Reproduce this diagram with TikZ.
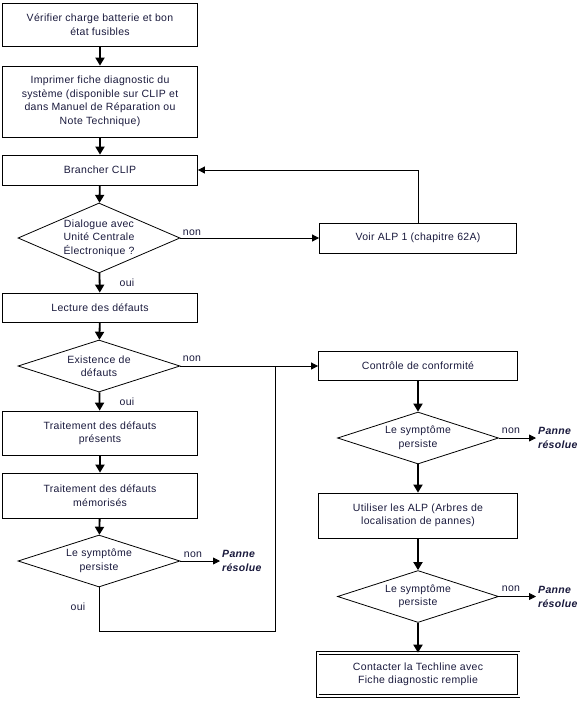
\documentclass[tikz,border=0pt]{standalone}
\usepackage{fontspec}
\setmainfont{Liberation Sans}[LetterSpace=3]
\usepackage{xcolor}
\usepackage{tikz}
\usetikzlibrary{shapes.geometric, arrows.meta, positioning, calc}
\definecolor{txtnavy}{RGB}{25,25,60}

\begin{document}
\begin{tikzpicture}[
    x=1pt, y=-1pt,
    font=\fontsize{10.5}{13.5}\selectfont,
    every node/.style={text=txtnavy},
    box/.style={draw=black, line width=0.8pt, minimum width=195pt, align=center, inner sep=0pt},
    decision/.style={draw=black, diamond, aspect=2.3, line width=0.8pt, align=center, inner sep=0pt},
    panne/.style={anchor=west, align=left, inner sep=2pt, font=\fontsize{10.5}{14}\selectfont\bfseries\itshape},
    lbl/.style={inner sep=0pt},
    thickarrow/.style={line width=1.8pt, -{Triangle[length=8pt,width=9pt]}},
    thinarrow/.style={line width=0.8pt, -{Triangle[length=7pt,width=7pt]}}
]
\useasboundingbox (0,0) rectangle (583,716);

% left column
\node[box, minimum height=43pt] (verif) at (100,24.5) {Vérifier charge batterie et bon\\état fusibles};
\node[box, minimum height=71pt] (imprim) at (100,101.5) {Imprimer fiche diagnostic du\\système (disponible sur CLIP et\\dans Manuel de Réparation ou\\Note Technique)};
\node[box, minimum height=30pt] (branch) at (100,170) {Brancher CLIP};
\node[decision, minimum width=162pt, minimum height=70pt] (dialog) at (99,238) {Dialogue avec\\Unité Centrale\\Électronique ?};
\node[box, minimum height=29pt] (lect) at (100,307.5) {Lecture des défauts};
\node[decision, minimum width=162pt, minimum height=52pt] (exist) at (99,366) {Existence de\\défauts};
\node[box, minimum height=44pt] (present) at (100,433) {Traitement des défauts\\présents};
\node[box, minimum height=45pt] (memo) at (100,495.5) {Traitement des défauts\\mémorisés};
\node[decision, minimum width=162pt, minimum height=51pt] (sympA) at (99,561) {Le symptôme\\persiste};
\node[panne] (panneA) at (220,561) {Panne\\résolue};

% right column
\node[box, minimum width=197pt, minimum height=30pt] (voir) at (418,238) {Voir ALP 1 (chapitre 62A)};
\node[box, minimum width=199pt, minimum height=29pt] (ctrl) at (418,366) {Contrôle de conformité};
\node[decision, minimum width=161pt, minimum height=50pt] (sympB) at (418,438) {Le symptôme\\persiste};
\node[panne] (panneB) at (536,438) {Panne\\résolue};
\node[box, minimum width=199pt, minimum height=45pt] (util) at (418,515.5) {Utiliser les ALP (Arbres de\\localisation de pannes)};
\node[decision, minimum width=161pt, minimum height=49pt] (sympC) at (418,596.5) {Le symptôme\\persiste};
\node[panne] (panneC) at (536,596.5) {Panne\\résolue};
\node[box, double, double distance=2pt, line width=0.6pt, minimum width=201pt, minimum height=43pt] (techl) at (418,674.5) {Contacter la Techline avec\\Fiche diagnostic remplie};

% labels
\node[lbl] (nonA) at (192,233) {non};
\node[lbl] (ouiA) at (127,283) {oui};
\node[lbl] (nonB) at (192,359) {non};
\node[lbl] (ouiB) at (127,402) {oui};
\node[lbl] (nonC) at (193,555) {non};
\node[lbl] (ouiC) at (78,607) {oui};
\node[lbl] (nonD) at (511,431) {non};
\node[lbl] (nonE) at (511,589) {non};

\coordinate (join) at (275,366);
\coordinate (bend) at (275,631);

% main flow
\draw[thickarrow] (verif) -- (imprim);
\draw[thickarrow] (imprim) -- (branch);
\draw[thickarrow] (branch) -- (dialog);
\draw[thickarrow] (dialog) -- (lect);
\draw[thickarrow] (lect) -- (exist);
\draw[thickarrow] (exist) -- (present);
\draw[thickarrow] (present) -- (memo);
\draw[thickarrow] (memo) -- (sympA);
\draw[thickarrow] (ctrl) -- (sympB);
\draw[thickarrow] (sympB) -- (util);
\draw[thickarrow] (util) -- (sympC);
\draw[thickarrow] (sympC) -- (techl);

% side branches
\draw[thinarrow] (dialog) -- (voir);
\draw[thinarrow] (voir.north) |- (branch.east);
\draw[thinarrow] (exist) -- (ctrl);
\draw[line width=0.8pt] (sympA.south) |- (bend) -- (join);
\draw[thinarrow] (sympA) -- (panneA);
\draw[thinarrow] (sympB) -- (panneB);
\draw[thinarrow] (sympC) -- (panneC);
\end{tikzpicture}
\end{document}
